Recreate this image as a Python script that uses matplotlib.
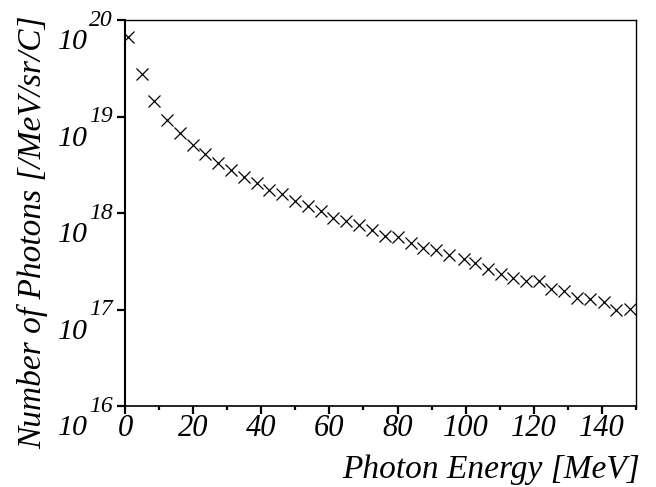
import numpy as np
import matplotlib
matplotlib.use("Agg")
import matplotlib.pyplot as plt
from matplotlib.ticker import MultipleLocator, NullFormatter, NullLocator

# photon energy (MeV) and yield (/MeV/sr/C)
energy = [1.0, 4.9, 8.5, 12.2, 16.2, 19.9, 23.5, 27.4, 31.1, 34.9,
          38.7, 42.4, 46.2, 49.9, 53.8, 57.6, 61.2, 64.9, 68.8, 72.5,
          76.4, 80.0, 84.0, 87.6, 91.3, 95.2, 99.4, 102.6, 106.5, 110.3,
          114.0, 117.8, 121.4, 125.0, 129.0, 132.7, 136.6, 140.5, 144.2, 148.1]
photons = [6.7e19, 2.73e19, 1.46e19, 9.3e18, 6.8e18, 5.05e18, 4.04e18, 3.26e18, 2.78e18, 2.37e18,
           2.05e18, 1.75e18, 1.57e18, 1.34e18, 1.18e18, 1.04e18, 8.98e17, 8.22e17, 7.6e17, 6.74e17,
           5.84e17, 5.65e17, 4.94e17, 4.39e17, 4.11e17, 3.65e17, 3.30e17, 3.07e17, 2.61e17, 2.36e17,
           2.14e17, 1.98e17, 1.96e17, 1.65e17, 1.55e17, 1.32e17, 1.28e17, 1.20e17, 1.00e17, 1.02e17]

xticks = [0, 20, 40, 60, 80, 100, 120, 140]
decades = [16, 17, 18, 19, 20]

plt.rcParams['font.family'] = ['Liberation Serif', 'DejaVu Serif']
plt.rcParams['font.style'] = 'italic'

fig = plt.figure(figsize=(6.56, 4.87), dpi=100)
ax = fig.add_axes([0.1905, 0.1663, 0.779, 0.7926])

ax.plot(energy, photons, 'x', color='black', markersize=8, markeredgewidth=0.9)

ax.set_yscale('log')
ax.set_xlim(0, 150)
ax.set_ylim(1e16, 1e20)

ax.set_xticks(xticks)
ax.set_xticklabels([str(t) for t in xticks])
ax.xaxis.set_minor_locator(MultipleLocator(10))
ax.tick_params(axis='x', which='major', direction='out', length=5.5, width=1.6,
               labelsize=22, pad=0.5)
ax.tick_params(axis='x', which='minor', direction='out', length=3, width=1.6)

ax.set_yticks([10.0 ** d for d in decades])
ax.yaxis.set_minor_locator(NullLocator())
ax.yaxis.set_major_formatter(NullFormatter())
ax.tick_params(axis='y', which='major', direction='out', length=6, width=1.6)

# "10" with its exponent drawn as two pieces, as in the original
for d in decades:
    ax.annotate(str(d), xy=(0, 10.0 ** d), xycoords=('axes fraction', 'data'),
                xytext=(-12, 0), textcoords='offset pixels',
                ha='right', va='center', fontsize=17, annotation_clip=False)
    ax.annotate('10', xy=(0, 10.0 ** d), xycoords=('axes fraction', 'data'),
                xytext=(-37, -22), textcoords='offset pixels',
                ha='right', va='center', fontsize=21.5, annotation_clip=False)

for s in ax.spines.values():
    s.set_linewidth(1.0)
ax.spines['left'].set_linewidth(1.5)
ax.spines['bottom'].set_linewidth(1.2)

ax.set_xlabel('Photon Energy [MeV]', fontsize=24, ha='right')
ax.xaxis.set_label_coords(1.008, -0.125)
ax.set_ylabel('Number of Photons [/MeV/sr/C]', fontsize=24)
ax.yaxis.set_label_coords(-0.150, 0.45)

fig.savefig('out.png', dpi=100)
